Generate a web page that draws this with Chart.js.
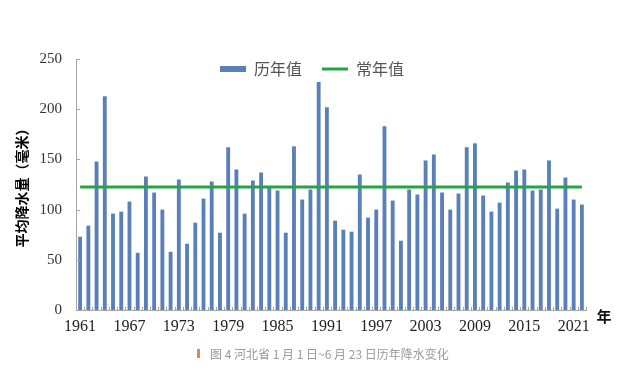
<!DOCTYPE html>
<html>
<head>
<meta charset="utf-8">
<script src="https://cdn.jsdelivr.net/npm/chart.js@4.4.0/dist/chart.umd.min.js"></script>
<style>
html,body{margin:0;padding:0;background:#fff;}
#wrap{width:639px;height:384px;position:relative;}
</style>
</head>
<body>
<div id="wrap"><canvas id="c" width="639" height="384"></canvas></div>
<script>
const years = ['1961','1962','1963','1964','1965','1966','1967','1968','1969','1970',
  '1971','1972','1973','1974','1975','1976','1977','1978','1979','1980',
  '1981','1982','1983','1984','1985','1986','1987','1988','1989','1990',
  '1991','1992','1993','1994','1995','1996','1997','1998','1999','2000',
  '2001','2002','2003','2004','2005','2006','2007','2008','2009','2010',
  '2011','2012','2013','2014','2015','2016','2017','2018','2019','2020',
  '2021','2022'];
const yearlyValues = [73,84,148,213,96,98,108,57,133,117,
  100,58,130,66,87,111,128,77,162,140,
  96,129,137,122,119,77,163,110,120,227,
  202,89,80,78,135,92,100,183,109,69,
  120,115,149,155,117,100,116,162,166,114,
  98,107,127,139,140,119,120,149,101,132,
  110,105];
const normalValue = 122.5;
const normalSeries = years.map(() => normalValue);
const xTickLabels = ['1961','1967','1973','1979','1985','1991','1997','2003','2009','2015','2021'];
const yTicks = [0,50,100,150,200,250];
const seriesNames = ['历年值','常年值'];
const yTitle = '平均降水量（毫米）';
const xUnit = '年';
const caption = '图 4 河北省 1 月 1 日~6 月 23 日历年降水变化';

const BAR = '#5a80b8';
const GREEN = '#22a447';
const AXIS = '#a6a6a6';
const CJK = '"Noto Sans CJK SC", "Noto Sans", sans-serif';
const SERIF = '"Liberation Serif", "DejaVu Serif", serif';

const legendPad = 20;
const extras = {
  id: 'extras',
  afterLayout(chart) {
    const lg = chart.legend;
    if (!lg) return;
    const w = lg.width, h = lg.height;
    lg.left = 220 - legendPad;
    lg.right = lg.left + w;
    lg.top = 69 - 8 - legendPad;
    lg.bottom = lg.top + h;
  },
  afterDraw(chart) {
    const ctx = chart.ctx;
    const ca = chart.chartArea;
    const xs = chart.scales.x, ys = chart.scales.y;
    ctx.save();
    ctx.strokeStyle = AXIS;
    ctx.lineWidth = 1;
    yTicks.forEach(v => {
      const py = Math.round(ys.getPixelForValue(v)) + 0.5;
      ctx.beginPath();
      ctx.moveTo(ca.left, py);
      ctx.lineTo(ca.left + 4, py);
      ctx.stroke();
    });
    for (let i = 0; i <= years.length; i++) {
      const px = Math.round(xs.getPixelForValue(i - 0.5)) + 0.5;
      ctx.beginPath();
      ctx.moveTo(px, ca.bottom);
      ctx.lineTo(px, ca.bottom - 3);
      ctx.stroke();
    }
    ctx.fillStyle = '#111';
    ctx.font = 'bold 15px ' + CJK;
    ctx.textAlign = 'center';
    ctx.textBaseline = 'middle';
    ctx.fillText(xUnit, ca.right + 18, ca.bottom + 6);
    ctx.font = '12px ' + CJK;
    ctx.textAlign = 'left';
    const tx = chart.width / 2 - 109.5;
    ctx.fillStyle = '#e8834a';
    ctx.fillRect(tx - 13, 349, 3, 9);
    ctx.fillStyle = '#9a9a9a';
    ctx.fillText(caption, tx, 354);
    ctx.restore();
  }
};

new Chart(document.getElementById('c'), {
  data: {
    labels: years,
    datasets: [
      {
        type: 'bar',
        label: seriesNames[0],
        data: yearlyValues,
        backgroundColor: BAR,
        borderWidth: 0,
        barPercentage: 0.47,
        categoryPercentage: 1.0,
        order: 1
      },
      {
        type: 'line',
        label: seriesNames[1],
        data: normalSeries,
        borderColor: GREEN,
        backgroundColor: GREEN,
        borderWidth: 3,
        pointRadius: 0,
        tension: 0,
        fill: false,
        order: 0
      }
    ]
  },
  options: {
    responsive: false,
    animation: false,
    devicePixelRatio: 1,
    layout: { padding: { left: 0, right: 53, top: 13, bottom: 0 } },
    plugins: {
      tooltip: { enabled: false },
      title: { display: false },
      legend: {
        position: 'top',
        align: 'start',
        labels: {
          usePointStyle: true,
          pointStyleWidth: 26,
          boxHeight: 6,
          padding: legendPad,
          color: '#555',
          font: { size: 16, family: CJK },
          generateLabels(chart) {
            const items = Chart.defaults.plugins.legend.labels.generateLabels(chart);
            items.sort((a, b) => a.datasetIndex - b.datasetIndex);
            items.forEach(it => {
              if (it.datasetIndex === 0) { it.pointStyle = 'rect'; it.lineWidth = 0; it.fillStyle = BAR; }
              else { it.pointStyle = 'line'; it.lineWidth = 3; it.strokeStyle = GREEN; }
            });
            return items;
          }
        }
      }
    },
    scales: {
      x: {
        type: 'category',
        offset: true,
        grid: { display: false, drawTicks: false },
        border: { display: true, color: AXIS, width: 1 },
        ticks: {
          autoSkip: false,
          maxRotation: 0,
          minRotation: 0,
          padding: 7,
          color: '#222',
          font: { size: 16, family: SERIF },
          callback(value) {
            const lab = this.getLabelForValue(value);
            return xTickLabels.includes(lab) ? lab : '';
          }
        },
        afterFit(scale) { scale.height = 74; }
      },
      y: {
        min: 0,
        max: 250,
        grid: { display: false, drawTicks: false },
        border: { display: true, color: AXIS, width: 1 },
        afterBuildTicks(scale) { scale.ticks = yTicks.map(v => ({ value: v })); },
        ticks: {
          padding: 14,
          color: '#333',
          font: { size: 15, family: SERIF }
        },
        title: {
          display: true,
          text: yTitle,
          color: '#000',
          font: { size: 14, weight: 'bold', family: CJK },
          padding: { top: 13.5, bottom: 0 }
        },
        afterFit(scale) { scale.width = 76; }
      }
    }
  },
  plugins: [extras]
});
</script>
</body>
</html>
